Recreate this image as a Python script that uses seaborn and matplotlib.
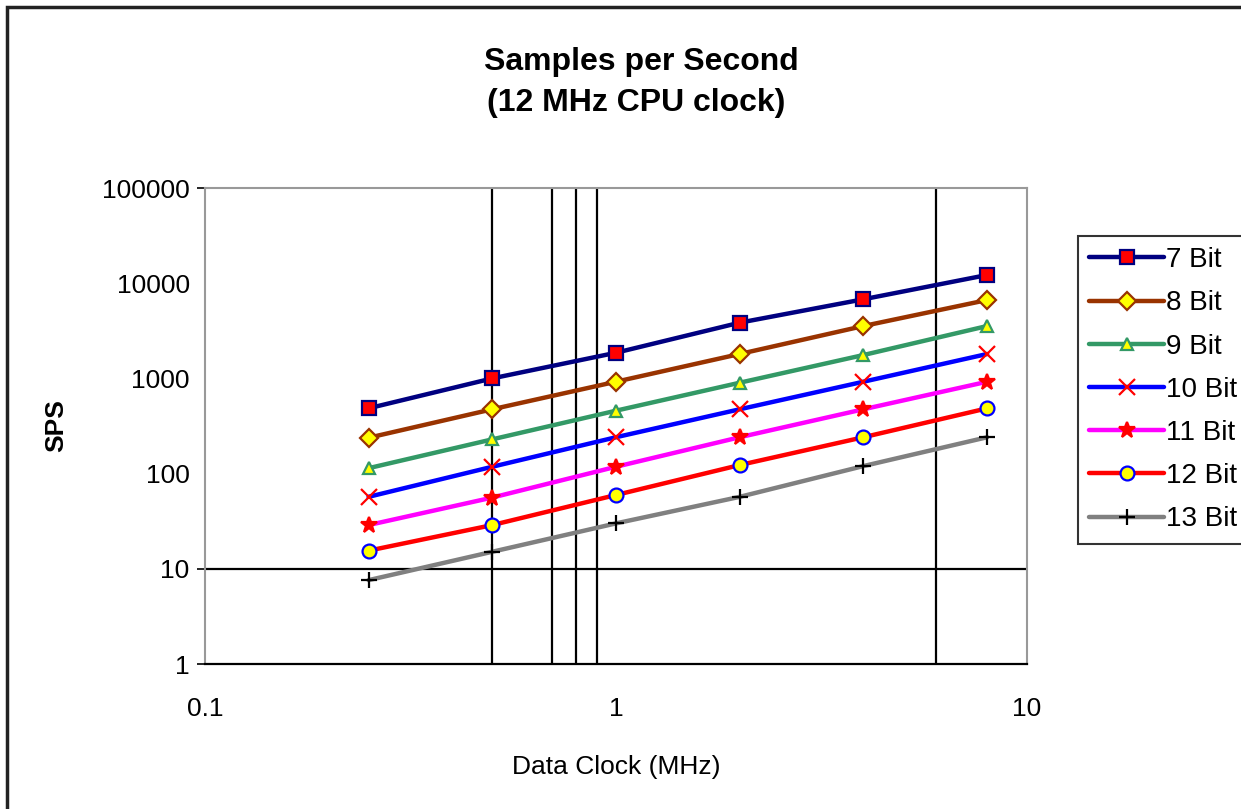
import numpy as np
import pandas as pd
import seaborn as sns
import matplotlib.pyplot as plt
from matplotlib.patches import Rectangle

sns.set_style('white')
plt.rcParams['font.family'] = ['Liberation Sans', 'DejaVu Sans']
plt.rcParams['text.color'] = 'black'
plt.rcParams['axes.labelcolor'] = 'black'
plt.rcParams['xtick.color'] = 'black'
plt.rcParams['ytick.color'] = 'black'

# Data clock (MHz) and samples per second.
clock = [0.25, 0.5, 1, 2, 4, 8]
bit7 = [485, 1000, 1860, 3850, 6780, 12200]
bit8 = [238, 474, 923, 1805, 3550, 6660]
bit9 = [114, 229, 458, 901, 1760, 3550]
bit10 = [57, 118, 241, 474, 923, 1805]
bit11 = [28.8, 56, 118, 241, 474, 923]
bit12 = [15.5, 28.8, 59.6, 123, 241, 485]
bit13 = [7.6, 15.1, 30, 57, 120, 241]
labels = ['7 Bit', '8 Bit', '9 Bit', '10 Bit', '11 Bit', '12 Bit', '13 Bit']
series = [bit7, bit8, bit9, bit10, bit11, bit12, bit13]

# Odd Excel gridlines.
vlines = [0.5, 0.7, 0.8, 0.9, 6]
hlines = [10]

# Line colour, marker, marker face, marker edge.
styles = [
    ('#000080', 's', '#FF0000', '#000080'),
    ('#993300', 'D', '#FFFF00', '#993300'),
    ('#339966', '^', '#FFFF00', '#339966'),
    ('#0000FF', 'x', '#FF0000', '#FF0000'),
    ('#FF00FF', '*', '#FF0000', '#FF0000'),
    ('#FF0000', 'o', '#FFFF00', '#0000FF'),
    ('#808080', '+', '#000000', '#000000'),
]

fig = plt.figure(figsize=(12.41, 8.09), dpi=100)
ax = fig.add_axes([205 / 1241, 1 - 664 / 809, (1027 - 205) / 1241, (664 - 188) / 809])

for v in vlines:
    ax.axvline(v, color='black', lw=1.6, zorder=1)
for h in hlines:
    ax.axhline(h, color='black', lw=1.6, zorder=1)

for lab, vals, (c, m, fc, ec) in zip(labels, series, styles):
    ms = 10 if m in ('s', 'o') else 9
    if m in ('x', '+', '*'):
        ms = 12
    sns.lineplot(x=clock, y=vals, ax=ax, color=c, lw=3.2, marker=m, markersize=ms,
                 markerfacecolor=fc, markeredgecolor=ec, markeredgewidth=1.6,
                 label=lab, zorder=3)

ax.set_xscale('log')
ax.set_yscale('log')
ax.set_xlim(0.1, 10)
ax.set_ylim(1, 100000)
ax.set_xticks([0.1, 1, 10])
ax.set_xticklabels(['0.1', '1', '10'])
ax.set_yticks([1, 10, 100, 1000, 10000, 100000])
ax.set_yticklabels(['1', '10', '100', '1000', '10000', '100000'])
ax.minorticks_off()
ax.tick_params(axis='both', labelsize=19, length=6, width=1.2, color='black', pad=5)
ax.tick_params(axis='x', pad=18)
for t, v in zip(ax.yaxis.get_major_ticks(), [1, 10, 100, 1000, 10000, 100000]):
    t.tick1line.set_visible(v in (1, 10, 100000))
for t in ax.xaxis.get_major_ticks():
    t.tick1line.set_visible(False)

for s in ['top', 'left', 'right']:
    ax.spines[s].set_color('#999999')
    ax.spines[s].set_linewidth(1.5)
ax.spines['bottom'].set_color('black')
ax.spines['bottom'].set_linewidth(1.6)

ax.set_xlabel('Data Clock (MHz)', fontsize=19, labelpad=24)
ax.set_ylabel('SPS', fontsize=19, fontweight='bold', labelpad=24)

fig.text(641 / 1241, 1 - 62 / 809, 'Samples per Second', ha='center', va='center',
         fontsize=23, fontweight='bold')
fig.text(636 / 1241, 1 - 103 / 809, '(12 MHz CPU clock)', ha='center', va='center',
         fontsize=23, fontweight='bold')

leg = ax.legend(loc='upper left', bbox_to_anchor=(1078 / 1241, 1 - 236 / 809),
                bbox_transform=fig.transFigure, frameon=True, fancybox=False,
                fontsize=20, handlelength=2.7, handletextpad=0.05, labelspacing=0.62,
                borderpad=0.4, borderaxespad=0)
leg.get_frame().set_edgecolor('black')
leg.get_frame().set_linewidth(1.5)

# Outer chart frame (clipped at right and bottom like the reference).
fig.patches.append(Rectangle((7 / 1241, -0.1), 1.2, 1 - 7 / 809 + 0.1,
                             transform=fig.transFigure, fill=False,
                             edgecolor='#222222', lw=2.5))

fig.savefig('out.png', dpi=100)
